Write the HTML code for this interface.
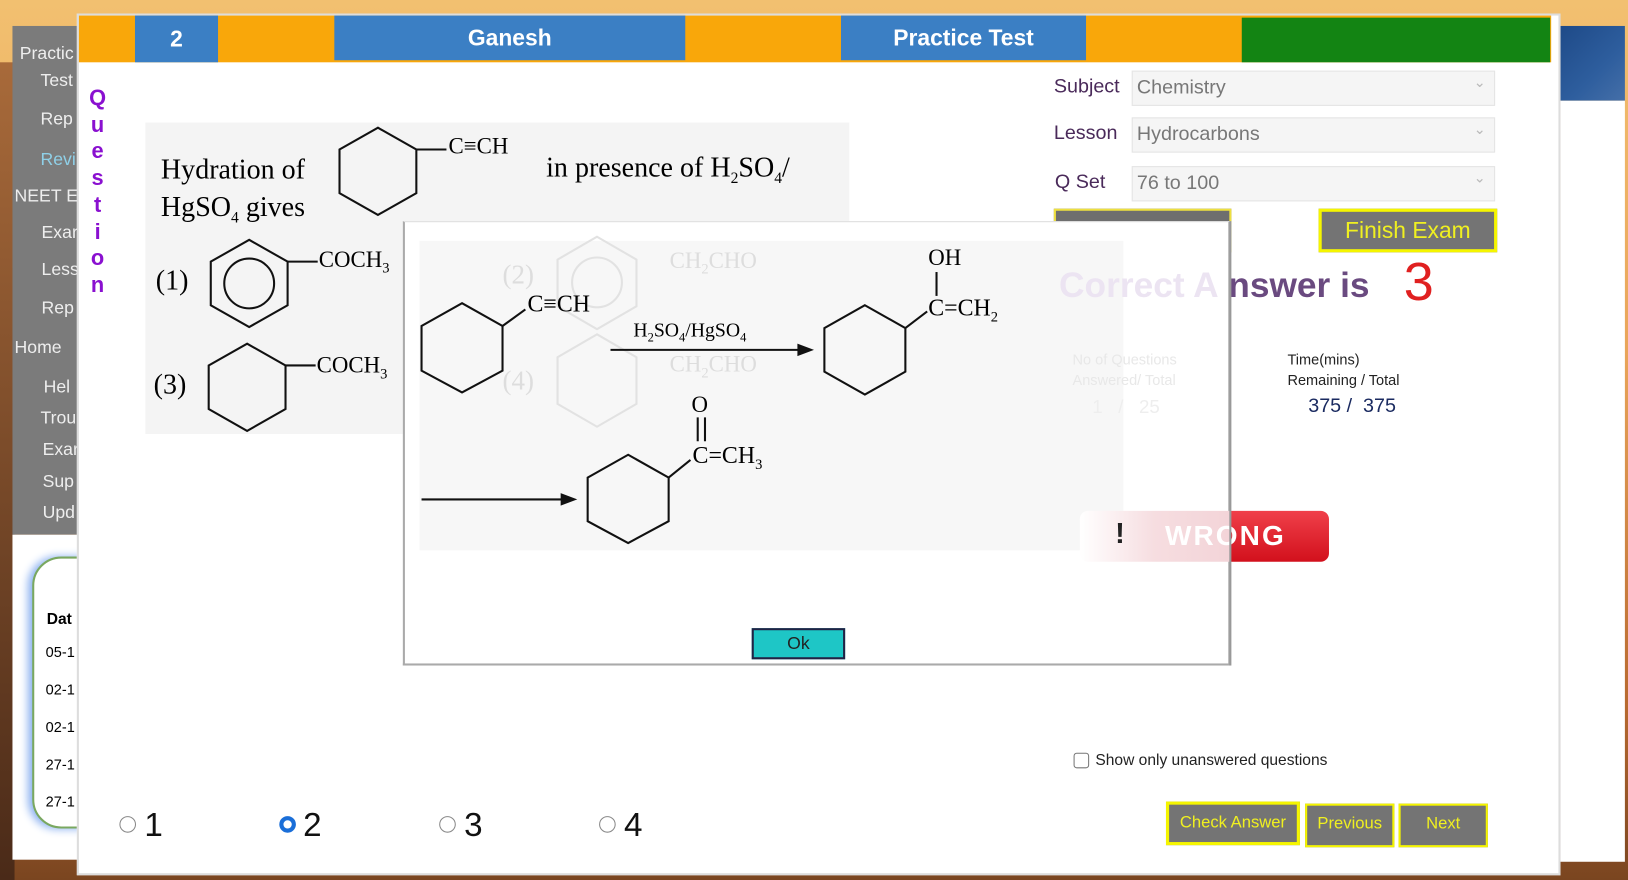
<!DOCTYPE html>
<html><head><meta charset="utf-8">
<style>
*{margin:0;padding:0;box-sizing:border-box}
html,body{width:1628px;height:880px;overflow:hidden}
body{background:linear-gradient(180deg,#f2c070 0%,#e9a55a 40%,#b86a30 80%,#7a4520 100%);font-family:"Liberation Sans",sans-serif}
#s{position:absolute;left:0;top:0;width:1568px;height:848px;transform:scale(1.03827);transform-origin:0 0}
.a{position:absolute}
.menu{color:#eee;font-size:17px;position:absolute}
.lbl{position:absolute;font-size:19px;color:#4a2a5a}
.sel{position:absolute;left:1090px;width:350px;height:34px;background:#f5f5f5;border:1px solid #e4e4e4;font-size:19px;color:#777;padding:5px 4px}
.sel:after{content:"⌄";position:absolute;right:8px;top:2px;color:#bbb;font-size:14px}
.btn{position:absolute;background:#747474;border:3px solid #f5f500;color:#f0f020;font-size:16px;text-align:center}
.ser{font-family:"Liberation Serif",serif}
.rad{position:absolute;top:786px;width:16px;height:16px;border:1px solid #888;border-radius:50%;background:#fff}
.num{position:absolute;top:776px;font-size:32px;color:#111}
</style></head><body>
<div id="s">
<div class="a" style="left:0;top:60px;width:14px;height:788px;background:linear-gradient(180deg,#a86a3a,#4a2a18)"></div>
<div class="a" style="left:12px;top:25px;width:64px;height:490px;background:#7b7b7b"></div>
<div class="menu" style="left:19px;top:42px;">Practic</div>
<div class="menu" style="left:39px;top:68px;">Test</div>
<div class="menu" style="left:39px;top:105px;">Rep</div>
<div class="menu" style="left:39px;top:144px;color:#8fd0e8">Revi</div>
<div class="menu" style="left:14px;top:179px;">NEET E</div>
<div class="menu" style="left:40px;top:214px;">Exar</div>
<div class="menu" style="left:40px;top:250px;">Less</div>
<div class="menu" style="left:40px;top:287px;">Rep</div>
<div class="menu" style="left:14px;top:325px;">Home</div>
<div class="menu" style="left:42px;top:363px;">Hel</div>
<div class="menu" style="left:39px;top:393px;">Trou</div>
<div class="menu" style="left:41px;top:423px;">Exar</div>
<div class="menu" style="left:41px;top:454px;">Sup</div>
<div class="menu" style="left:41px;top:484px;">Upd</div>
<div class="a" style="left:12px;top:515px;width:64px;height:313px;background:#fff"></div>
<div class="a" style="left:31px;top:536px;width:80px;height:262px;border:2px solid #7aa860;border-radius:28px;box-shadow:-4px 0 8px #8ab0f0;background:#fff"></div>
<div class="a" style="left:45px;top:588px;font-size:15px;font-weight:bold">Dat</div>
<div class="a" style="left:44px;top:620px;font-size:14px">05-1</div>
<div class="a" style="left:44px;top:656px;font-size:14px">02-1</div>
<div class="a" style="left:44px;top:692px;font-size:14px">02-1</div>
<div class="a" style="left:44px;top:728px;font-size:14px">27-1</div>
<div class="a" style="left:44px;top:764px;font-size:14px">27-1</div>
<div class="a" style="left:1503px;top:25px;width:62px;height:72px;background:linear-gradient(135deg,#1e4a88,#2e5e9e 60%,#456fa8)"></div>
<div class="a" style="left:1503px;top:97px;width:62px;height:733px;background:#fff"></div>
<div class="a" style="left:74px;top:13px;width:1429px;height:830px;background:#fff;border:2px solid #ddd"></div>
<div class="a" style="left:76px;top:15px;width:1418px;height:45px;background:#f9a70a"></div>
<div class="a" style="left:130px;top:15px;width:80px;height:45px;background:#3b7fc4;color:#fff;font-size:22px;font-weight:bold;text-align:center;line-height:45px">2</div>
<div class="a" style="left:322px;top:15px;width:338px;height:43px;background:#3b7fc4;color:#fff;font-size:22px;font-weight:bold;text-align:center;line-height:43px">Ganesh</div>
<div class="a" style="left:810px;top:15px;width:236px;height:43px;background:#3b7fc4;color:#fff;font-size:22px;font-weight:bold;text-align:center;line-height:43px">Practice Test</div>
<div class="a" style="left:1196px;top:17px;width:297px;height:43px;background:#138413"></div>
<div class="a" style="left:84px;top:82px;width:20px;color:#8a10d0;font-size:21px;font-weight:bold;line-height:25.7px;text-align:center">Q<br>u<br>e<br>s<br>t<br>i<br>o<br>n</div>
<div class="a" style="left:140px;top:118px;width:678px;height:300px;background:#f4f4f4"></div>
<svg class="a" style="left:0;top:0" width="1568" height="848">
<defs><polygon id="h" points="0,-42 37,-21 37,21 0,42 -37,21 -37,-21" fill="none" stroke="#111" stroke-width="2"/></defs>
<use href="#h" x="364" y="165"/><line x1="401" y1="144" x2="430" y2="144" stroke="#111" stroke-width="2"/>
<use href="#h" x="240" y="273"/><circle cx="240" cy="273" r="24" fill="none" stroke="#111" stroke-width="2"/><line x1="277" y1="252" x2="306" y2="252" stroke="#111" stroke-width="2"/>
<use href="#h" x="238" y="373"/><line x1="275" y1="352" x2="304" y2="352" stroke="#111" stroke-width="2"/>
</svg>
<div class="a ser" style="left:155px;top:148px;font-size:27px">Hydration of</div>
<div class="a ser" style="left:155px;top:184px;font-size:27px">HgSO<sub style="font-size:15px">4</sub> gives</div>
<div class="a ser" style="left:432px;top:128px;font-size:22px">C≡CH</div>
<div class="a ser" style="left:526px;top:146px;font-size:27px">in presence of H<sub style="font-size:15px">2</sub>SO<sub style="font-size:15px">4</sub>/</div>
<div class="a ser" style="left:150px;top:255px;font-size:27px">(1)</div>
<div class="a ser" style="left:307px;top:237px;font-size:22px">COCH<sub style="font-size:14px">3</sub></div>
<div class="a ser" style="left:148px;top:355px;font-size:27px">(3)</div>
<div class="a ser" style="left:305px;top:339px;font-size:22px">COCH<sub style="font-size:14px">3</sub></div>
<div class="a" style="left:1015px;top:201px;width:171px;height:42px;background:#6e6e6e;border:2px solid #eee040"></div>
<div class="a" style="left:388px;top:213px;width:797px;height:428px;background:#fff;border:2px solid #aaa;border-top:1px solid #ddd"></div>
<div class="a" style="left:404px;top:232px;width:678px;height:298px;background:#f7f7f7"></div>
<div class="a ser" style="left:484px;top:250px;font-size:26px;color:#ddd">(2)</div>
<div class="a ser" style="left:484px;top:352px;font-size:26px;color:#ddd">(4)</div>
<div class="a ser" style="left:645px;top:238px;font-size:22px;color:#ddd">CH<sub style="font-size:14px">2</sub>CHO</div>
<div class="a ser" style="left:645px;top:338px;font-size:22px;color:#ddd">CH<sub style="font-size:14px">2</sub>CHO</div>
<svg class="a" style="left:0;top:0" width="1568" height="848">
<polygon points="575,228 613,250 613,295 575,317 537,295 537,250" fill="none" stroke="#e2e2e2" stroke-width="2"/>
<circle cx="575" cy="272" r="24" fill="none" stroke="#e2e2e2" stroke-width="2"/>
<polygon points="575,322 613,344 613,389 575,411 537,389 537,344" fill="none" stroke="#e2e2e2" stroke-width="2"/>
<g stroke="#111" stroke-width="2" fill="none">
<polygon points="445,292 484,314 484,357 445,378 406,357 406,314"/>
<line x1="484" y1="314" x2="506" y2="298"/>
<line x1="588" y1="337" x2="772" y2="337"/>
<polygon points="833,294 872,316 872,358 833,380 794,358 794,316"/>
<line x1="872" y1="316" x2="893" y2="300"/>
<line x1="902" y1="262" x2="902" y2="285"/>
<polygon points="605,438 644,460 644,502 605,523 566,502 566,460"/>
<line x1="644" y1="460" x2="665" y2="443"/>
<line x1="672" y1="402" x2="672" y2="425"/><line x1="679" y1="402" x2="679" y2="425"/>
<line x1="406" y1="481" x2="542" y2="481"/>
</g>
<polygon points="784,337 768,331 768,343" fill="#111"/>
<polygon points="556,481 540,475 540,487" fill="#111"/>
</svg>
<div class="a ser" style="left:508px;top:280px;font-size:23px">C≡CH</div>
<div class="a ser" style="left:610px;top:308px;font-size:19px">H<sub style="font-size:12px">2</sub>SO<sub style="font-size:12px">4</sub>/HgSO<sub style="font-size:12px">4</sub></div>
<div class="a ser" style="left:894px;top:235px;font-size:22px">OH</div>
<div class="a ser" style="left:894px;top:284px;font-size:23px">C=CH<sub style="font-size:14px">2</sub></div>
<div class="a ser" style="left:666px;top:377px;font-size:22px">O</div>
<div class="a ser" style="left:667px;top:426px;font-size:23px">C=CH<sub style="font-size:14px">3</sub></div>
<div class="a" style="left:724px;top:605px;width:90px;height:30px;background:#1ec6c6;border:2px solid #224;font-size:17px;text-align:center;line-height:26px;color:#222">Ok</div>
<div class="lbl" style="left:1015px;top:73px">Subject</div>
<div class="lbl" style="left:1015px;top:118px">Lesson</div>
<div class="lbl" style="left:1016px;top:165px">Q Set</div>
<div class="sel" style="top:68px">Chemistry</div>
<div class="sel" style="top:113px">Hydrocarbons</div>
<div class="sel" style="top:160px">76 to 100</div>
<div class="btn" style="left:1270px;top:201px;width:172px;height:42px;font-size:22px;line-height:36px">Finish Exam</div>
<div class="a" style="left:1020px;top:256px;font-size:34px;color:#ece4f2;font-weight:bold">Correct A</div>
<div class="a" style="left:1183px;top:256px;font-size:34px;color:#6a4a80;font-weight:bold">nswer is</div>
<div class="a" style="left:1352px;top:242px;font-size:52px;color:#e02020">3</div>
<div class="a" style="left:1033px;top:336px;font-size:14px;color:#e8e8e8;line-height:20px">No of Questions<br>Answered/ Total</div>
<div class="a" style="left:1052px;top:382px;font-size:18px;color:#eee">1 &nbsp;&nbsp;/ &nbsp;&nbsp;25</div>
<div class="a" style="left:1240px;top:336px;font-size:14px;color:#222;line-height:20px">Time(mins)<br>Remaining / Total</div>
<div class="a" style="left:1260px;top:381px;font-size:19px;color:#1a2a60">375 / &nbsp;375</div>
<div class="a" style="left:1040px;top:492px;width:145px;height:49px;background:linear-gradient(90deg,#fff,#f6dde0 50%,#f3d4d8);border-radius:8px 0 0 8px"></div>
<div class="a" style="left:1185px;top:492px;width:95px;height:49px;background:linear-gradient(180deg,#f0404a,#d2101c);border-radius:0 8px 8px 0"></div>
<div class="a" style="left:1122px;top:501px;font-size:27px;font-weight:bold;color:#fff;letter-spacing:2px">WRONG</div>
<div class="a" style="left:1074px;top:498px;font-size:28px;font-weight:bold;color:#222">!</div>
<div class="a" style="left:1184px;top:213px;width:2px;height:428px;background:#999"></div>
<div class="a" style="left:1034px;top:725px;width:15px;height:15px;border:1px solid #777;border-radius:3px;background:#fff"></div>
<div class="a" style="left:1055px;top:724px;font-size:15px;color:#222">Show only unanswered questions</div>
<div class="rad" style="left:115px"></div><div class="num" style="left:139px">1</div>
<div class="rad" style="left:269px;border:4px solid #1a6ed8"></div><div class="num" style="left:292px">2</div>
<div class="rad" style="left:423px"></div><div class="num" style="left:447px">3</div>
<div class="rad" style="left:577px"></div><div class="num" style="left:601px">4</div>
<div class="btn" style="left:1123px;top:772px;width:129px;height:42px;line-height:36px">Check Answer</div>
<div class="btn" style="left:1257px;top:774px;width:86px;height:42px;line-height:36px;border-width:2px">Previous</div>
<div class="btn" style="left:1347px;top:774px;width:86px;height:42px;line-height:36px;border-width:2px">Next</div>
</div>
</body></html>
